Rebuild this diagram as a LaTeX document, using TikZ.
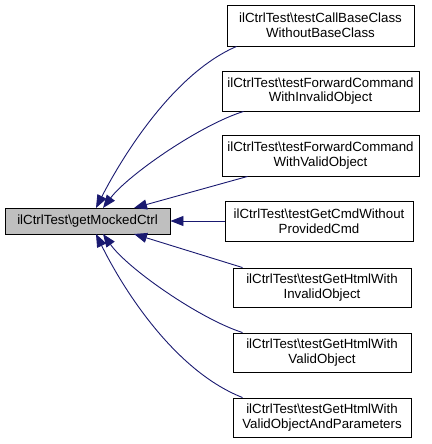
\documentclass[tikz,border=0pt]{standalone}
\usepackage{fontspec}
\setmainfont{Liberation Sans}
\usetikzlibrary{arrows.meta}
\definecolor{edgeblue}{HTML}{191970}
\definecolor{boxgray}{HTML}{BFBFBF}
\tikzset{
  fn/.style={draw=black, line width=0.9bp, fill=white, align=center, inner sep=0pt,
    font=\fontsize{13.3bp}{14.5bp}\selectfont},
  callee/.style={fn, fill=boxgray},
  call/.style={draw=edgeblue, line width=0.9bp, -{Triangle[length=13bp,width=10bp]}},
}
\begin{document}
\begin{tikzpicture}[x=1bp,y=-1bp]
\useasboundingbox (0,0) rectangle (431,444);
\node[callee, minimum width=165bp, minimum height=26bp] (m) at (87.5,221) {ilCtrlTest\textbackslash getMockedCtrl};
\node[fn, minimum width=187bp, minimum height=41bp] (n1) at (320.5,25.5) {ilCtrlTest\textbackslash testCallBaseClass\\WithoutBaseClass};
\node[fn, minimum width=197bp, minimum height=40bp] (n2) at (320.5,91) {ilCtrlTest\textbackslash testForwardCommand\\WithInvalidObject};
\node[fn, minimum width=197bp, minimum height=41bp] (n3) at (320.5,155.5) {ilCtrlTest\textbackslash testForwardCommand\\WithValidObject};
\node[fn, minimum width=188bp, minimum height=40bp] (n4) at (319,221) {ilCtrlTest\textbackslash testGetCmdWithout\\ProvidedCmd};
\node[fn, minimum width=178bp, minimum height=39bp] (n5) at (322,287.5) {ilCtrlTest\textbackslash testGetHtmlWith\\InvalidObject};
\node[fn, minimum width=178bp, minimum height=39bp] (n6) at (322,352.5) {ilCtrlTest\textbackslash testGetHtmlWith\\ValidObject};
\node[fn, minimum width=178bp, minimum height=39bp] (n7) at (322,417.5) {ilCtrlTest\textbackslash testGetHtmlWith\\ValidObjectAndParameters};
\coordinate (t1) at (96,208);
\coordinate (t2) at (103,208);
\coordinate (t3) at (134,208);
\coordinate (b1) at (96,234);
\coordinate (b2) at (103,234);
\coordinate (b3) at (134,234);
\draw[call] ([xshift=10bp]n1.south west) .. controls (170,75) and (118,165) .. (t1);
\draw[call] ([xshift=22bp]n2.south west) .. controls (200,125) and (128,175) .. (t2);
\draw[call] ([xshift=26bp]n3.south west) -- (t3);
\draw[call] (n4.west) -- (m.east);
\draw[call] ([xshift=10bp]n5.north west) -- (b3);
\draw[call] ([xshift=10bp]n6.north west) .. controls (200,319) and (128,269) .. (b2);
\draw[call] ([xshift=10bp]n7.north west) .. controls (170,369) and (118,279) .. (b1);
\end{tikzpicture}
\end{document}
